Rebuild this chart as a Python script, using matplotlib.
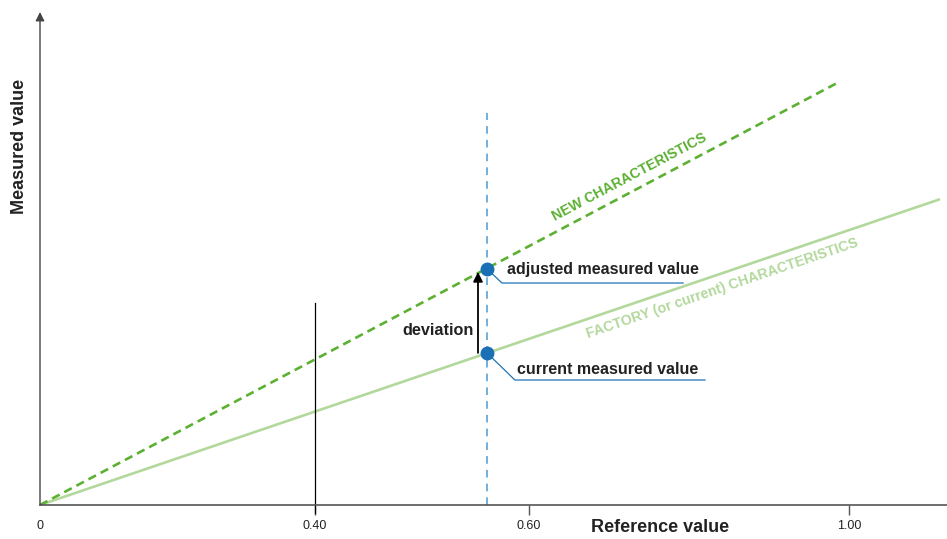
import matplotlib.pyplot as plt
import numpy as np

# schematic chart: reference value vs measured value
tick_labels = ['0', '0.40', '0.60', '1.00']
tick_pos = [0, 0.340, 0.6045, 1.0]

new_ref = [0, 0.986]
new_meas = [0, 0.522]
fac_ref = [0, 1.1125]
fac_meas = [0, 0.378]

sel_ref = 0.5525
adjusted = 0.292
current = 0.188

plt.rcParams['font.family'] = ['Liberation Sans', 'DejaVu Sans']

W, H = 947, 539
fig = plt.figure(figsize=(W / 100, H / 100), dpi=100)
ax = fig.add_axes([40 / W, 34 / H, 907 / W, 493 / H])
ax.set_xlim(0, 907 / 809)
ax.set_ylim(0, 493 / 809)

for s in ['top', 'right', 'left']:
    ax.spines[s].set_visible(False)
ax.spines['bottom'].set_color('#555555')
ax.spines['bottom'].set_linewidth(1.2)
ax.set_yticks([])

# y axis with arrow
ax.annotate('', xy=(0, 1.0), xytext=(0, 0), xycoords='axes fraction',
            arrowprops=dict(arrowstyle='-|>', color='#444444', lw=1.0,
                            mutation_scale=13, shrinkA=0, shrinkB=0))

ax.set_xticks(tick_pos, tick_labels)
ax.tick_params(axis='x', length=7, width=1, color='#555555', labelsize=9,
               pad=4, labelcolor='#222222')
ax.xaxis.get_major_ticks()[0].tick1line.set_visible(False)

# characteristics
ax.plot(fac_ref, fac_meas, color='#b3d89c', lw=1.9, solid_capstyle='butt')
ax.plot(new_ref, new_meas, color='#5cb032', lw=1.9, dashes=(3.2, 2.0))

# helper line at 0.40
ax.plot([tick_pos[1], tick_pos[1]], [-8 / 809, 0.25], color='black', lw=0.9,
        clip_on=False)

# vertical dashed line at the selected reference point
ax.plot([sel_ref, sel_ref], [0, 0.4845], color='#4a9ad4', lw=1.1, dashes=(5, 4))

# deviation arrow
ax.annotate('', xy=(0.5414, 0.288), xytext=(0.5414, current),
            arrowprops=dict(arrowstyle='-|>', color='black', lw=1.3,
                            mutation_scale=14, shrinkA=0, shrinkB=0))
ax.text(0.5365, 0.2163, 'deviation', ha='right', va='center', fontsize=11.7,
        fontweight='bold', color='#222222')

# leader lines and labels
ax.plot([sel_ref, 0.571, 0.795], [adjusted, 0.2744, 0.2744], color='#1f73b7', lw=0.9)
ax.plot([sel_ref, 0.587, 0.822], [current, 0.1545, 0.1545], color='#1f73b7', lw=0.9)
ax.plot([sel_ref, sel_ref], [adjusted, current], 'o', color='#1a6fb5', ms=9, zorder=5)
ax.text(0.577, 0.2917, 'adjusted measured value', ha='left', va='center',
        fontsize=11.5, fontweight='bold', color='#222222')
ax.text(0.5896, 0.168, 'current measured value', ha='left', va='center',
        fontsize=11.5, fontweight='bold', color='#222222')

ax.text((629 - 40) / 809, (505 - 177) / 809, 'NEW CHARACTERISTICS', ha='center',
        va='center', rotation=np.degrees(np.arctan(new_meas[1] / new_ref[1])),
        fontsize=10.2, fontweight='bold', color='#5cb032', rotation_mode='anchor')
ax.text((722 - 40) / 809, (505 - 288) / 809, 'FACTORY (or current) CHARACTERISTICS',
        ha='center', va='center',
        rotation=np.degrees(np.arctan(fac_meas[1] / fac_ref[1])),
        fontsize=10.2, fontweight='bold', color='#b3d89c', rotation_mode='anchor')

fig.text(660 / W, 1 - 527 / H, 'Reference value', ha='center', va='center',
         fontsize=13, fontweight='bold', color='#222222')
fig.text(19 / W, 1 - 146 / H, 'Measured value', ha='center', va='center',
         rotation=90, fontsize=13, fontweight='bold', color='#222222')

fig.savefig('out.png', dpi=100)
